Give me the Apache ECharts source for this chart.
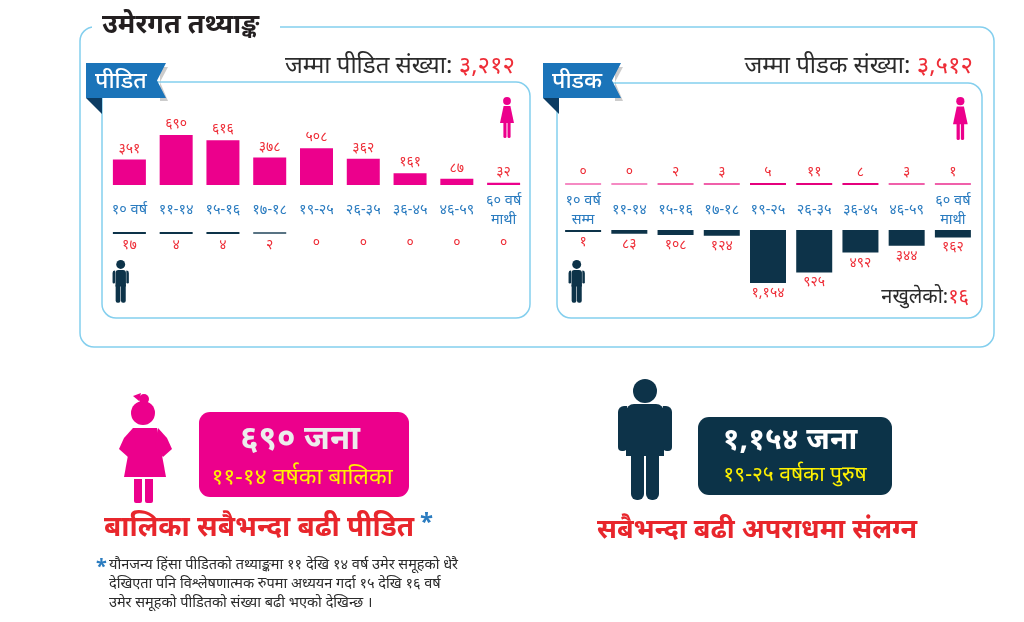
<!DOCTYPE html>
<html>
<head>
<meta charset="utf-8">
<script src="https://cdn.jsdelivr.net/npm/echarts@6/dist/echarts.min.js"></script>
<style>
  html, body { margin: 0; padding: 0; background: #fff; }
  #main { width: 1024px; height: 622px; }
</style>
</head>
<body>
<div id="main"></div>
<script>
// data
var victimCats = ['१० वर्ष', '११-१४', '१५-१६', '१७-१८', '१९-२५', '२६-३५', '३६-४५', '४६-५९', '६० वर्ष\nमाथी'];
var offenderCats = ['१० वर्ष\nसम्म', '११-१४', '१५-१६', '१७-१८', '१९-२५', '२६-३५', '३६-४५', '४६-५९', '६० वर्ष\nमाथी'];
var victimFemale = [351, 690, 616, 378, 508, 362, 161, 87, 32];
var victimMale = [17, 4, 4, 2, 0, 0, 0, 0, 0];
var offenderFemale = [0, 0, 2, 3, 5, 11, 8, 3, 1];
var offenderMale = [1, 83, 108, 124, 1154, 925, 492, 344, 162];
var offenderUnknown = 16;
var victimTotal = 3212;
var offenderTotal = 3512;

var FONT = '"Noto Sans", sans-serif';
var PINK = '#ec008c';
var NAVY = '#0d3349';
var RED = '#ee2d37';
var BLUE_TXT = '#2b7cc0';
var BORDER = '#84cfee';

// अंक नेपालीमा
function dev(n) {
  return Number(n).toLocaleString('en-US').replace(/\d/g, function (d) { return '०१२३४५६७८९'[d]; });
}

var myChart = echarts.init(document.getElementById('main'));

function catAxis(gridIndex, cats, showLabel) {
  return {
    type: 'category', gridIndex: gridIndex, data: cats,
    axisLine: { show: false }, axisTick: { show: false },
    axisLabel: {
      show: showLabel, color: BLUE_TXT, fontSize: 14.5, fontFamily: FONT,
      verticalAlign: 'middle', margin: 25, lineHeight: 19, interval: 0
    }
  };
}
function valAxis(gridIndex, max, inverse) {
  return {
    type: 'value', gridIndex: gridIndex, min: 0, max: max, inverse: inverse,
    show: false, splitLine: { show: false }
  };
}
function numLabel(pos) {
  return {
    show: true, position: pos, distance: 4, color: RED, fontSize: 14,
    fontFamily: FONT, formatter: function (p) { return dev(p.value); }
  };
}

// icons
function maleIcon(x, y, s, color) {
  return {
    type: 'group', x: x, y: y, scaleX: s, scaleY: s, silent: true,
    children: [
      { type: 'circle', shape: { cx: 10, cy: 4.6, r: 4.6 }, style: { fill: color } },
      { type: 'rect', shape: { x: 4.6, y: 10.2, width: 10.8, height: 17, r: [3, 3, 0, 0] }, style: { fill: color } },
      { type: 'rect', shape: { x: 1.6, y: 10.8, width: 2.6, height: 13.5, r: [2.5, 0, 1.3, 1.3] }, style: { fill: color } },
      { type: 'rect', shape: { x: 15.8, y: 10.8, width: 2.6, height: 13.5, r: [0, 2.5, 1.3, 1.3] }, style: { fill: color } },
      { type: 'rect', shape: { x: 4.8, y: 26, width: 4.9, height: 18, r: [0, 0, 2, 2] }, style: { fill: color } },
      { type: 'rect', shape: { x: 10.3, y: 26, width: 4.9, height: 18, r: [0, 0, 2, 2] }, style: { fill: color } }
    ]
  };
}
function femaleIcon(x, y, s, color) {
  return {
    type: 'group', x: x, y: y, scaleX: s, scaleY: s, silent: true,
    children: [
      { type: 'circle', shape: { cx: 7, cy: 4, r: 3.9 }, style: { fill: color } },
      { type: 'polygon', shape: { points: [[3.6, 9], [10.4, 9], [14, 26], [0, 26]] }, style: { fill: color } },
      { type: 'rect', shape: { x: 3.4, y: 25, width: 3.1, height: 16, r: [0, 0, 1.5, 1.5] }, style: { fill: color } },
      { type: 'rect', shape: { x: 7.5, y: 25, width: 3.1, height: 16, r: [0, 0, 1.5, 1.5] }, style: { fill: color } }
    ]
  };
}
function girlIcon(x, y, color) {
  return {
    type: 'group', x: x, y: y, silent: true,
    children: [
      { type: 'circle', shape: { cx: 23, cy: 6, r: 5 }, style: { fill: color } },
      { type: 'circle', shape: { cx: 22, cy: 20, r: 12 }, style: { fill: color } },
      { type: 'polygon', shape: { points: [[12, 3], [20, 0], [18, 8]] }, style: { fill: color } },
      { type: 'polygon', shape: { points: [[12, 35], [36, 35], [45, 84], [3, 84]] }, style: { fill: color } },
      { type: 'polygon', shape: { points: [[12, 35], [3, 45], [-2, 56], [7, 64], [15, 54]] }, style: { fill: color } },
      { type: 'polygon', shape: { points: [[37, 35], [46, 45], [51, 56], [42, 64], [34, 54]] }, style: { fill: color } },
      { type: 'rect', shape: { x: 13, y: 86, width: 8, height: 24, r: [0, 0, 2, 2] }, style: { fill: color } },
      { type: 'rect', shape: { x: 24, y: 86, width: 8, height: 24, r: [0, 0, 2, 2] }, style: { fill: color } }
    ]
  };
}

function ribbon(x, y, w, label) {
  return {
    type: 'group', x: x, y: y, silent: true,
    children: [
      { type: 'polygon', shape: { points: [[w - 6, 4], [w + 2, 4], [w - 6, 19], [w + 2, 38], [w - 6, 38]] }, style: { fill: '#555', opacity: 0.3 } },
      { type: 'polygon', shape: { points: [[0, 35], [16, 35], [16, 51]] }, style: { fill: '#0c3c63' } },
      { type: 'polygon', shape: { points: [[0, 0], [w, 0], [w - 9, 17.5], [w, 35], [0, 35]] }, style: { fill: '#1b74b9' } },
      { type: 'text', x: 9, y: 18, style: { text: label, fill: '#fff', font: '500 23px ' + FONT, verticalAlign: 'middle' } }
    ]
  };
}

var option = {
  animation: false,
  textStyle: { fontFamily: FONT },
  grid: [
    { left: 106, right: 497, top: 100, height: 85 },
    { left: 106, right: 497, top: 232, height: 60 },
    { left: 560, right: 48, top: 100, height: 85 },
    { left: 560, right: 48, top: 230, height: 60 }
  ],
  xAxis: [
    catAxis(0, victimCats, true),
    catAxis(1, victimCats, false),
    catAxis(2, offenderCats, true),
    catAxis(3, offenderCats, false)
  ],
  yAxis: [
    valAxis(0, 1173, false),
    valAxis(1, 828, true),
    valAxis(2, 1850, false),
    valAxis(3, 1306, true)
  ],
  series: [
    {
      type: 'bar', xAxisIndex: 0, yAxisIndex: 0, data: victimFemale, barWidth: 33, barMinHeight: 2,
      itemStyle: { color: PINK }, label: numLabel('top'), silent: true
    },
    {
      type: 'bar', xAxisIndex: 1, yAxisIndex: 1, data: victimMale, barWidth: 33, barMinHeight: 2,
      itemStyle: { color: function (p) { return p.value >= 4 ? NAVY : '#587383'; } },
      label: numLabel('bottom'), silent: true
    },
    {
      type: 'bar', xAxisIndex: 2, yAxisIndex: 2, data: offenderFemale, barWidth: 36, barMinHeight: 2,
      itemStyle: { color: function (p) { return p.value === 0 ? '#f58ac3' : (p.value >= 5 ? '#e5007d' : '#f060aa'); } },
      label: numLabel('top'), silent: true
    },
    {
      type: 'bar', xAxisIndex: 3, yAxisIndex: 3, data: offenderMale, barWidth: 36, barMinHeight: 2,
      itemStyle: { color: NAVY }, label: Object.assign(numLabel('bottom'), { distance: 3 }), silent: true
    }
  ],
  graphic: [
    // outer frame
    { type: 'rect', shape: { x: 80, y: 27, width: 914, height: 320, r: 14 }, style: { fill: 'none', stroke: BORDER, lineWidth: 1.5 }, silent: true },
    { type: 'rect', shape: { x: 92, y: 12, width: 188, height: 28 }, style: { fill: '#fff' }, silent: true },
    { type: 'text', x: 102, y: 25, style: { text: 'उमेरगत तथ्याङ्क', fill: '#231f20', font: 'bold 27px ' + FONT, verticalAlign: 'middle' } },
    // panels
    { type: 'rect', shape: { x: 102, y: 82, width: 428, height: 236, r: 14 }, style: { fill: 'none', stroke: BORDER, lineWidth: 1.5 }, silent: true },
    { type: 'rect', shape: { x: 557, y: 83, width: 425, height: 235, r: 14 }, style: { fill: 'none', stroke: BORDER, lineWidth: 1.5 }, silent: true },
    ribbon(86, 63, 80, 'पीडित'),
    ribbon(543, 63, 78, 'पीडक'),
    {
      type: 'text', x: 515, y: 66,
      style: {
        text: '{a|जम्मा पीडित संख्या: }{b|' + dev(victimTotal) + '}', align: 'right', verticalAlign: 'middle',
        rich: { a: { fill: '#2b2b2b', font: '24px ' + FONT }, b: { fill: RED, font: '24px ' + FONT } }
      }
    },
    {
      type: 'text', x: 973, y: 66,
      style: {
        text: '{a|जम्मा पीडक संख्या: }{b|' + dev(offenderTotal) + '}', align: 'right', verticalAlign: 'middle',
        rich: { a: { fill: '#2b2b2b', font: '24px ' + FONT }, b: { fill: RED, font: '24px ' + FONT } }
      }
    },
    {
      type: 'text', x: 969, y: 297,
      style: {
        text: '{a|नखुलेको:}{b|' + dev(offenderUnknown) + '}', align: 'right', verticalAlign: 'middle',
        rich: { a: { fill: '#2b2b2b', font: '20px ' + FONT }, b: { fill: RED, font: '20px ' + FONT } }
      }
    },
    femaleIcon(500, 97, 1, PINK),
    femaleIcon(953, 97, 1.05, PINK),
    maleIcon(111, 260, 0.97, NAVY),
    maleIcon(567, 260, 0.97, NAVY),
    // bottom left
    girlIcon(121, 393, PINK),
    { type: 'rect', shape: { x: 199, y: 412, width: 210, height: 85, r: 11 }, style: { fill: PINK }, silent: true },
    { type: 'text', x: 300, y: 440, style: { text: dev(690) + ' जना', fill: '#ececec', font: 'bold 33px ' + FONT, align: 'center', verticalAlign: 'middle' } },
    { type: 'text', x: 302, y: 477, style: { text: '११-१४ वर्षका बालिका', fill: '#fff200', font: '23px ' + FONT, align: 'center', verticalAlign: 'middle' } },
    { type: 'text', x: 259, y: 528, style: { text: 'बालिका सबैभन्दा बढी पीडित', fill: '#e8262c', font: 'bold 28px ' + FONT, align: 'center', verticalAlign: 'middle' } },
    { type: 'text', x: 420, y: 523, style: { text: '*', fill: '#2b7cc0', font: 'bold 24px ' + FONT, verticalAlign: 'middle' } },
    { type: 'text', x: 96, y: 567, style: { text: '*', fill: '#2b7cc0', font: 'bold 20px ' + FONT, verticalAlign: 'middle' } },
    {
      type: 'text', x: 109, y: 555,
      style: {
        text: 'यौनजन्य हिंसा पीडितको तथ्याङ्कमा ११ देखि १४ वर्ष उमेर समूहको धेरै\nदेखिएता पनि विश्लेषणात्मक रुपमा अध्ययन गर्दा १५ देखि १६ वर्ष\nउमेर समूहको पीडितको संख्या बढी भएको देखिन्छ ।',
        fill: '#2b2b2b', font: '14.5px ' + FONT, lineHeight: 19
      }
    },
    // bottom right
    {
      type: 'group', x: 618, y: 378, silent: true,
      children: [
        { type: 'circle', shape: { cx: 27, cy: 13, r: 12 }, style: { fill: NAVY } },
        { type: 'rect', shape: { x: 8, y: 26, width: 38, height: 52, r: [8, 8, 0, 0] }, style: { fill: NAVY } },
        { type: 'rect', shape: { x: 0, y: 28, width: 9, height: 45, r: [6, 0, 4, 4] }, style: { fill: NAVY } },
        { type: 'rect', shape: { x: 45, y: 28, width: 9, height: 45, r: [0, 6, 4, 4] }, style: { fill: NAVY } },
        { type: 'rect', shape: { x: 13, y: 74, width: 13, height: 48, r: [0, 0, 6, 6] }, style: { fill: NAVY } },
        { type: 'rect', shape: { x: 28, y: 74, width: 13, height: 48, r: [0, 0, 6, 6] }, style: { fill: NAVY } }
      ]
    },
    { type: 'rect', shape: { x: 698, y: 417, width: 194, height: 78, r: 11 }, style: { fill: '#0c3348' }, silent: true },
    { type: 'text', x: 790, y: 440, style: { text: dev(1154) + ' जना', fill: '#fff', font: 'bold 30px ' + FONT, align: 'center', verticalAlign: 'middle' } },
    { type: 'text', x: 795, y: 475, style: { text: '१९-२५ वर्षका पुरुष', fill: '#fff200', font: '21px ' + FONT, align: 'center', verticalAlign: 'middle' } },
    { type: 'text', x: 757, y: 530, style: { text: 'सबैभन्दा बढी अपराधमा संलग्न', fill: '#e8262c', font: 'bold 27px ' + FONT, align: 'center', verticalAlign: 'middle' } }
  ]
};

myChart.setOption(option);
</script>
</body>
</html>
